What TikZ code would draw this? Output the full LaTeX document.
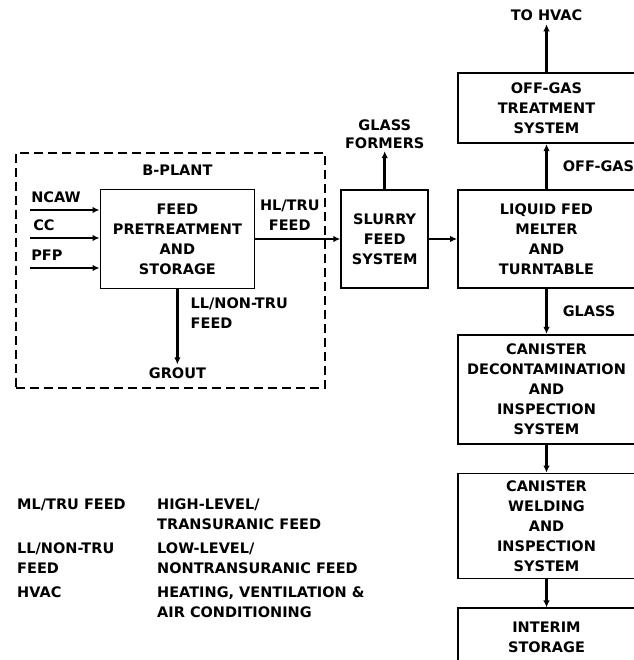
\documentclass[tikz,border=0pt]{standalone}
\usepackage{fontspec}
\setmainfont{DejaVu Sans}
\usepackage{tikz}
\usetikzlibrary{arrows.meta, positioning}

\begin{document}
\begin{tikzpicture}[x=1pt, y=1pt,
    font=\fontsize{14.5}{20}\selectfont\bfseries,
    box/.style={rectangle, draw, line width=1.8pt, align=center, inner sep=0pt, minimum width=177pt},
    plant/.style={rectangle, draw, dash pattern=on 9pt off 5pt, line width=1.4pt, minimum width=309pt, minimum height=235pt},
    lbl/.style={align=left, inner sep=0pt},
    arrow/.style={-{Latex[length=7pt,width=6.5pt]}, line width=2.6pt}
]
    \useasboundingbox (0,0) rectangle (633,660);

    % main line
    \node [box, minimum height=98pt] (melter) at (546.5,421) {LIQUID FED\\MELTER\\AND\\TURNTABLE};
    \node [box, minimum height=70pt, above=45pt of melter] (offgas) {OFF-GAS\\TREATMENT\\SYSTEM};
    \node [box, minimum height=109pt, below=45pt of melter] (decon) {CANISTER\\DECONTAMINATION\\AND\\INSPECTION\\SYSTEM};
    \node [box, minimum height=105pt, below=28pt of decon] (weld) {CANISTER\\WELDING\\AND\\INSPECTION\\SYSTEM};
    \node [box, minimum height=58pt, below=28pt of weld] (interim) {INTERIM\\STORAGE};
    \node [box, minimum width=87pt, minimum height=98pt, left=28pt of melter] (slurry) {SLURRY\\FEED\\SYSTEM};
    \node [box, minimum width=154pt, minimum height=99pt, left=85pt of slurry] (feed) {FEED\\PRETREATMENT\\AND\\STORAGE};
    \node [lbl, align=center, inner sep=2pt, above=38pt of slurry, font=\fontsize{14.5}{18}\selectfont\bfseries] (formers) {GLASS\\FORMERS};
    \node [lbl, inner sep=3pt, above=48pt of offgas] (hvac) {TO HVAC};

    % b-plant
    \node [plant] (bplant) at (170.5,389.5) {};
    \node [lbl, above=13pt of feed] (bplantlbl) {B-PLANT};
    \node [lbl, inner sep=3pt, below=75pt of feed] (grout) {GROUT};
    \coordinate (ncaw) at (30,450);
    \coordinate (cc) at (30,422);
    \coordinate (pfp) at (30,392);

    \draw [arrow] (ncaw) node[lbl, anchor=south west, yshift=6pt] {NCAW} -- (ncaw -| feed.west);
    \draw [arrow] (cc) node[lbl, anchor=south west, xshift=2pt, yshift=6pt] {CC} -- (cc -| feed.west);
    \draw [arrow] (pfp) node[lbl, anchor=south west, yshift=6pt] {PFP} -- (pfp -| feed.west);
    \draw [arrow] (feed) -- node[lbl, align=center, above=7pt, xshift=-8pt] {HL/TRU\\FEED} (slurry);
    \draw [arrow] (feed) -- node[lbl, pos=0.1, anchor=north west, xshift=12pt] {LL/NON-TRU\\FEED} (grout);
    \draw [arrow] (slurry) -- (formers);
    \draw [arrow] (slurry) -- (melter);
    \draw [arrow] (melter) -- node[lbl, right=15pt] {OFF-GAS} (offgas);
    \draw [arrow] (offgas) -- (hvac);
    \draw [arrow] (melter) -- node[lbl, right=15pt] {GLASS} (decon);
    \draw [arrow] (decon) -- (weld);
    \draw [arrow] (weld) -- (interim);

    % abbreviations
    \node [lbl, anchor=north west] (abbr1) at (17,161) {ML/TRU FEED};
    \node [lbl, anchor=north west] (text1) at (157,161) {HIGH-LEVEL/\\TRANSURANIC FEED};
    \node [lbl, anchor=north west] (abbr2) at (17,117) {LL/NON-TRU\\FEED};
    \node [lbl, anchor=north west] (text2) at (157,117) {LOW-LEVEL/\\NONTRANSURANIC FEED};
    \node [lbl, anchor=north west] (abbr3) at (17,73) {HVAC};
    \node [lbl, anchor=north west] (text3) at (157,73) {HEATING, VENTILATION \&\\AIR CONDITIONING};
\end{tikzpicture}
\end{document}
